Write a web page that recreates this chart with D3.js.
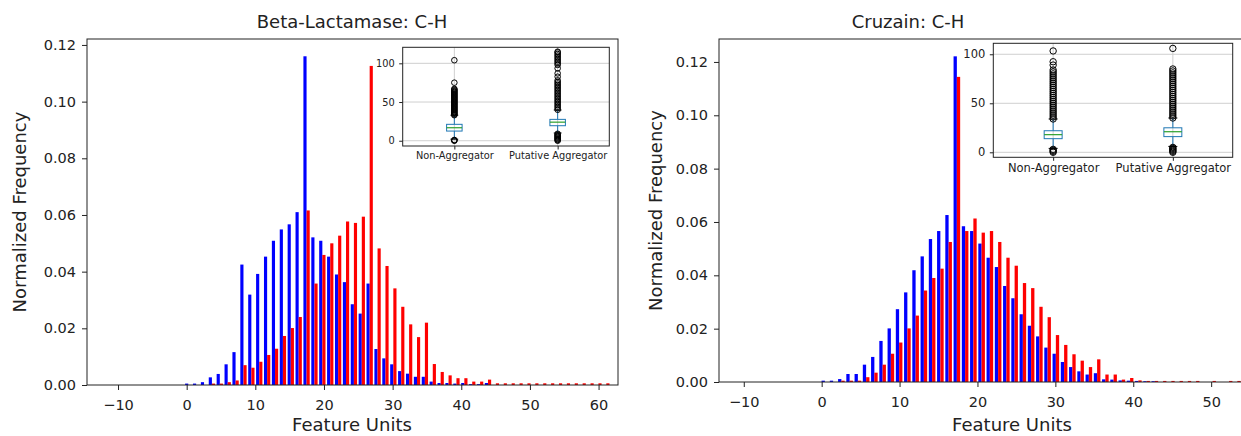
<!DOCTYPE html>
<html>
<head>
<meta charset="utf-8">
<script src="https://cdn.jsdelivr.net/npm/d3@7"></script>
<style>
  body { margin: 0; background: #fff; }
  text { font-family: "DejaVu Sans", sans-serif; fill: #222; }
</style>
</head>
<body>
<div id="chart"></div>
<script>
// ---- data ----
// histogram bins (Feature Units), one value per bin
const betaBinStart = -0.345, betaBinWidth = 1.149;
const betaNonAgg = [0.0005, 0.0005, 0.001, 0.0027, 0.0039, 0.0073, 0.0116, 0.0425, 0.0319, 0.0392,
  0.0453, 0.0509, 0.0549, 0.0567, 0.061, 0.116, 0.0521, 0.0509, 0.0453, 0.039,
  0.0363, 0.0285, 0.0252, 0.0358, 0.0127, 0.0094, 0.0073, 0.0049, 0.004, 0.0029,
  0.0029, 0.0012, 0.0007, 0.0007, 0.0005, 0.0007, 0.0003, 0.0003, 0.0007];
const betaPutative = [0, 0, 0, 0.0005, 0.0005, 0.001, 0.0016, 0.007, 0.0061, 0.0082,
  0.0106, 0.0128, 0.0173, 0.0201, 0.024, 0.0616, 0.0358, 0.0459, 0.05, 0.0527,
  0.0577, 0.0572, 0.0594, 0.1126, 0.0482, 0.042, 0.0341, 0.0276, 0.0214, 0.0169,
  0.022, 0.0074, 0.0046, 0.0034, 0.0024, 0.0024, 0.0012, 0.0012, 0.0019, 0.0006,
  0.0006, 0.0006, 0.0006, 0.0006, 0.0006, 0.0006, 0.0006, 0.0006, 0.0006, 0.0006,
  0.0006, 0.0006, 0.0006, 0.0006];

const cruzainBinStart = -0.118, cruzainBinWidth = 1.059;
const cruzainNonAgg = [0.0005, 0.0005, 0.0011, 0.003, 0.003, 0.0065, 0.0094, 0.0154, 0.0201, 0.0273,
  0.0336, 0.0419, 0.0471, 0.0536, 0.0566, 0.0626, 0.1221, 0.0584, 0.0566, 0.0519,
  0.0466, 0.0431, 0.036, 0.0314, 0.0254, 0.0211, 0.0171, 0.0129, 0.0106, 0.0075,
  0.0056, 0.004, 0.0028, 0.0033, 0.001, 0.0009, 0.0006, 0.0005, 0.0004, 0.0003, 0.0003];
const cruzainPutative = [0, 0, 0.0005, 0.0005, 0.0005, 0.0018, 0.0035, 0.0065, 0.0106, 0.0148,
  0.0201, 0.0249, 0.0343, 0.039, 0.0425, 0.0525, 0.1144, 0.0566, 0.0613, 0.056,
  0.0566, 0.0525, 0.0466, 0.0436, 0.0371, 0.0352, 0.0282, 0.0243, 0.0176, 0.0139,
  0.0104, 0.008, 0.0056, 0.0085, 0.0028, 0.0028, 0.0009, 0.0015, 0.0006, 0.0004,
  0.0004, 0.0004, 0.0004, 0.0004, 0.0004, 0.0004, 0, 0.0004, 0, 0.0004, 0.0004];

// inset box plots
const boxCategories = ["Non-Aggregator", "Putative Aggregator"];
// [whisker low, q1, median, q3, whisker high]
const betaBoxStats = [[2, 12.5, 16.8, 21.2, 33], [10, 19.4, 24, 27.6, 39.7]];
const betaOutliers = [
  [0, 0.5, 1, 33, 34, 35, 36, 37, 38, 39, 40, 41, 42, 43, 44, 45, 46, 47, 48, 49, 50, 51, 52, 53,
    54, 55, 56, 57, 58, 59, 60, 61, 62, 63, 64, 65, 66, 67, 75, 104],
  [0, 1, 2, 3, 4, 5, 6, 7, 8, 9, 40, 42, 44, 46, 48, 50, 52, 54, 56, 58, 60, 62, 64, 66, 68, 70,
    72, 74, 76, 78, 82.7, 87, 93.5, 98, 100, 102, 104, 106, 108, 110, 112, 114, 115]
];
const cruzainBoxStats = [[4, 13.9, 18, 22, 34], [6, 16, 21, 25, 35]];
const cruzainOutliers = [
  [0, 1, 2, 3, 34, 36, 38, 40, 42, 44, 46, 48, 50, 52, 54, 56, 58, 60, 62, 64, 66, 68, 70, 72, 74,
    76, 78, 80, 82, 84, 89, 92.4, 103.4],
  [0, 1, 2, 3, 4, 5, 35, 37, 39, 41, 43, 45, 47, 49, 51, 53, 55, 57, 59, 61, 63, 65, 67, 69, 71,
    73, 75, 77, 79, 81, 83, 85, 106]
];

const xTickValues = [-10, 0, 10, 20, 30, 40, 50, 60];
const yTickValues = [0, 0.02, 0.04, 0.06, 0.08, 0.10, 0.12];
const boxTickValues = [0, 50, 100];

// ---- drawing ----
const svg = d3.select("#chart")
  .append("svg")
  .attr("width", 1241)
  .attr("height", 436);

function styleAxis(g, fontSize) {
  g.select(".domain").remove();
  g.selectAll(".tick line").attr("stroke", "#222").attr("stroke-width", 1);
  g.selectAll(".tick text")
    .attr("fill", "#222")
    .style("font-family", "DejaVu Sans")
    .style("font-size", fontSize + "px");
}

function drawPanel(p) {
  const x = d3.scaleLinear().domain(p.xDomain).range([p.left, p.right]);
  const y = d3.scaleLinear().domain(p.yDomain).range([p.bottom, p.top]);

  const g = svg.append("g");

  // clip bars to the plot area
  const clipId = "clip-" + p.name;
  svg.append("clipPath").attr("id", clipId)
    .append("rect")
    .attr("x", p.left).attr("y", p.top)
    .attr("width", p.right - p.left).attr("height", p.bottom - p.top);

  const bars = g.append("g").attr("clip-path", `url(#${clipId})`);

  // two side-by-side bars per bin, like matplotlib's hist([a, b])
  const series = [
    { values: p.nonAgg, color: "#0000ff", offset: 0.1 },
    { values: p.putative, color: "#ff0000", offset: 0.5 }
  ];
  series.forEach((s) => {
    bars.selectAll(null)
      .data(s.values)
      .join("rect")
      .attr("x", (d, i) => x(p.binStart + i * p.binWidth + s.offset * p.binWidth))
      .attr("width", (d, i) => x(p.binStart + (i + 0.4) * p.binWidth) - x(p.binStart + i * p.binWidth))
      .attr("y", (d) => y(d))
      .attr("height", (d) => y(0) - y(d))
      .attr("fill", s.color);
  });

  // axes
  g.append("g")
    .attr("transform", `translate(0,${p.bottom})`)
    .call(d3.axisBottom(x).tickValues(xTickValues.filter((t) => t <= p.xDomain[1]))
      .tickSize(5).tickPadding(10).tickFormat(d3.format("d")))
    .call((a) => styleAxis(a, 14.5));

  g.append("g")
    .attr("transform", `translate(${p.left},0)`)
    .call(d3.axisLeft(y).tickValues(yTickValues).tickSize(5).tickPadding(6).tickFormat(d3.format(".2f")))
    .call((a) => styleAxis(a, 14.5));

  // frame
  g.append("rect")
    .attr("x", p.left).attr("y", p.top)
    .attr("width", p.right - p.left).attr("height", p.bottom - p.top)
    .attr("fill", "none").attr("stroke", "#222").attr("stroke-width", 1);

  // labels
  g.append("text")
    .attr("x", p.titleX).attr("y", 28)
    .attr("text-anchor", "middle")
    .style("font-size", "18px")
    .text(p.title);

  g.append("text")
    .attr("x", p.xLabelX).attr("y", 431)
    .attr("text-anchor", "middle")
    .style("font-size", "18px")
    .text("Feature Units");

  g.append("text")
    .attr("transform", `translate(${p.yLabelX},${(p.top + p.bottom) / 2}) rotate(-90)`)
    .attr("text-anchor", "middle")
    .style("font-size", "18px")
    .text("Normalized Frequency");

  drawInset(p.inset);
}

function drawInset(b) {
  const x = d3.scaleLinear().domain([0.5, 2.5]).range([b.left, b.right]);
  const y = d3.scaleLinear().domain(b.yDomain).range([b.bottom, b.top]);
  const g = svg.append("g");

  g.append("rect")
    .attr("x", b.left).attr("y", b.top)
    .attr("width", b.right - b.left).attr("height", b.bottom - b.top)
    .attr("fill", "#fff");

  // grid
  g.selectAll(null).data(boxTickValues).join("line")
    .attr("x1", b.left).attr("x2", b.right)
    .attr("y1", (d) => y(d)).attr("y2", (d) => y(d))
    .attr("stroke", "#cfcfcf").attr("stroke-width", 1);
  g.selectAll(null).data([1, 2]).join("line")
    .attr("x1", (d) => x(d)).attr("x2", (d) => x(d))
    .attr("y1", b.top).attr("y2", b.bottom)
    .attr("stroke", "#cfcfcf").attr("stroke-width", 1);

  const boxW = x(1.075) - x(0.925);
  const capW = boxW / 2;

  b.stats.forEach((s, i) => {
    const cx = x(i + 1);
    // whiskers
    g.append("line").attr("x1", cx).attr("x2", cx).attr("y1", y(s[0])).attr("y2", y(s[1]))
      .attr("stroke", "#1f77b4").attr("stroke-width", 1);
    g.append("line").attr("x1", cx).attr("x2", cx).attr("y1", y(s[3])).attr("y2", y(s[4]))
      .attr("stroke", "#1f77b4").attr("stroke-width", 1);
    // caps
    [s[0], s[4]].forEach((v) => {
      g.append("line").attr("x1", cx - capW / 2).attr("x2", cx + capW / 2)
        .attr("y1", y(v)).attr("y2", y(v))
        .attr("stroke", "#000").attr("stroke-width", 1);
    });
    // box
    g.append("rect")
      .attr("x", cx - boxW / 2).attr("y", y(s[3]))
      .attr("width", boxW).attr("height", y(s[1]) - y(s[3]))
      .attr("fill", "none").attr("stroke", "#1f77b4").attr("stroke-width", 1);
    // median
    g.append("line").attr("x1", cx - boxW / 2).attr("x2", cx + boxW / 2)
      .attr("y1", y(s[2])).attr("y2", y(s[2]))
      .attr("stroke", "#2ca02c").attr("stroke-width", 1.2);
    // fliers
    g.selectAll(null).data(b.outliers[i]).join("circle")
      .attr("cx", cx).attr("cy", (d) => y(d))
      .attr("r", b.r)
      .attr("fill", "none").attr("stroke", "#000").attr("stroke-width", 1);
  });

  g.append("g")
    .attr("transform", `translate(0,${b.bottom})`)
    .call(d3.axisBottom(x).tickValues([1, 2]).tickSize(3.5).tickPadding(b.xPad)
      .tickFormat((d) => boxCategories[d - 1]))
    .call((a) => styleAxis(a, b.fontSize));
  g.append("g")
    .attr("transform", `translate(${b.left},0)`)
    .call(d3.axisLeft(y).tickValues(boxTickValues).tickSize(3.5).tickPadding(4.5))
    .call((a) => styleAxis(a, b.fontSize));

  g.append("rect")
    .attr("x", b.left).attr("y", b.top)
    .attr("width", b.right - b.left).attr("height", b.bottom - b.top)
    .attr("fill", "none").attr("stroke", "#222").attr("stroke-width", 1);
}

drawPanel({
  name: "beta", title: "Beta-Lactamase: C-H",
  left: 87, right: 618, top: 39, bottom: 385,
  xDomain: [-14.52, 62.83], yDomain: [0, 0.1221],
  binStart: betaBinStart, binWidth: betaBinWidth,
  nonAgg: betaNonAgg, putative: betaPutative,
  titleX: 352, xLabelX: 352, yLabelX: 26,
  inset: {
    left: 402.7, right: 609.3, top: 47.3, bottom: 146, yDomain: [-6.8, 120.7],
    stats: betaBoxStats, outliers: betaOutliers, r: 2.8, fontSize: 9.8, xPad: 2.5
  }
});

drawPanel({
  name: "cruzain", title: "Cruzain: C-H",
  left: 719, right: 1260, top: 39, bottom: 382,
  xDomain: [-13.18, 56.27], yDomain: [0, 0.1286],
  binStart: cruzainBinStart, binWidth: cruzainBinWidth,
  nonAgg: cruzainNonAgg, putative: cruzainPutative,
  titleX: 908, xLabelX: 1012, yLabelX: 662,
  inset: {
    left: 993.3, right: 1232.7, top: 43.3, bottom: 157.3, yDomain: [-5.1, 111.2],
    stats: cruzainBoxStats, outliers: cruzainOutliers, r: 3.2, fontSize: 11.5, xPad: 3.5
  }
});
</script>
</body>
</html>
